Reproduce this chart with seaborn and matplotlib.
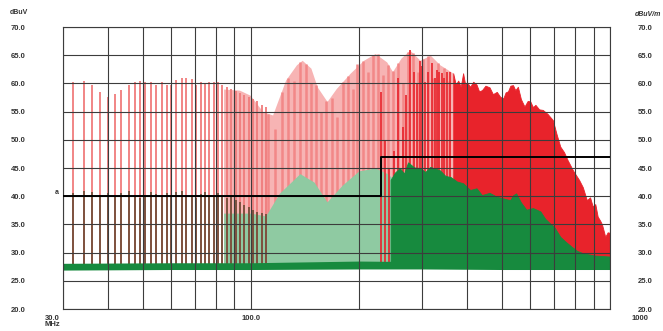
import matplotlib
matplotlib.use('Agg')
import matplotlib.pyplot as plt
import matplotlib.transforms as mtransforms
import numpy as np
import seaborn as sns

# Values (MHz / dBuV)

# discrete comb lines below ~110 MHz
low_freq = [30.0, 32.0, 34.3, 36.2, 38.1, 40.0, 41.8, 43.6, 45.7, 47.6, 49.3, 50.9, 52.8,
            54.5, 56.5, 58.3, 60.1, 62.1, 64.3, 66.2, 68.4, 70.4, 72.5, 74.5, 76.5, 78.8,
            81.1, 83.3, 85.6, 88.1, 90.7, 93.2, 95.7, 98.6, 101.3, 104.3, 107.2, 110.5]
low_red = [57.9, 60.3, 60.4, 59.7, 58.5, 57.6, 58.1, 58.9, 59.8, 60.3, 60.4, 60.3, 60.3,
           59.8, 60.2, 59.8, 59.8, 60.6, 60.9, 60.9, 60.7, 59.8, 60.2, 60.0, 60.2, 60.3,
           60.2, 59.8, 59.4, 59.0, 58.7, 58.3, 57.9, 57.6, 57.2, 56.8, 56.2, 55.8]
low_green = [39.5, 40.5, 41.0, 40.8, 40.2, 40.5, 39.8, 40.6, 40.9, 40.3, 39.6, 40.2, 40.8,
             40.4, 39.9, 40.5, 40.1, 40.7, 40.9, 40.3, 40.0, 39.6, 40.4, 40.8, 40.1, 39.8,
             40.5, 40.2, 39.7, 40.0, 39.4, 38.9, 38.4, 38.0, 37.5, 37.2, 37.0, 36.8]

# light peak envelope 85-366 MHz
pink_freq = [84, 93, 99.6, 108, 115, 125, 134, 139, 147, 153, 163, 173, 189, 206, 222,
             239, 248, 262, 277, 296, 316, 336, 352, 366]
pink_level = [59.0, 58.8, 57.9, 55.0, 54.4, 60.6, 63.3, 64.1, 62.7, 59.4, 56.8, 59.1,
              61.8, 64.1, 65.3, 63.8, 62.1, 64.5, 65.9, 64.1, 65.0, 63.3, 62.5, 61.8]

# comb lines inside the light envelope
pink_line_freq = [112, 117, 122, 127, 132, 137, 142, 147, 152, 157, 162, 168, 174, 180,
                  186, 192, 198, 205, 212, 219, 226, 233, 241, 249, 257, 265, 274, 283,
                  292, 302, 312, 322, 333, 344, 356]
pink_line_level = [54.5, 52.0, 58.5, 61.0, 60.5, 63.8, 63.5, 60.0, 59.8, 55.0, 56.9, 57.5,
                   54.0, 60.3, 61.4, 59.0, 63.4, 64.0, 62.0, 65.1, 65.2, 61.5, 63.3, 62.2,
                   63.6, 60.0, 65.6, 65.4, 62.0, 64.3, 64.8, 61.0, 63.6, 62.8, 60.5]

# light average envelope 85-250 MHz
pale_freq = [84, 100, 110, 120, 137, 150, 163, 180, 200, 222, 240, 250]
pale_level = [37.0, 37.0, 36.5, 40.5, 44.0, 42.5, 39.0, 42.0, 44.5, 45.0, 44.0, 43.0]

# single strong peak lines between 230 and 366 MHz
mid_freq = [230, 236, 243, 250, 257, 265, 270, 278, 285, 290, 296, 300, 306, 312, 320,
            325, 330, 335, 341, 346, 352, 358]
mid_red = [58.5, 50.0, 45.0, 48.0, 61.0, 52.3, 58.0, 65.9, 62.0, 60.0, 64.0, 63.0, 60.3,
           62.0, 63.6, 61.0, 62.4, 62.0, 61.8, 61.0, 62.1, 62.0]

# dense peak envelope above 366 MHz
red_freq = [366, 372, 378, 384, 390, 395, 400, 408, 416, 425, 432, 440, 450, 462, 472,
            484, 495, 505, 512, 520, 528, 537, 545, 554, 565, 578, 590, 600, 610, 620,
            635, 650, 670, 693, 710, 727, 745, 762, 790, 820, 840, 862, 880, 895, 910,
            924, 940, 950, 970, 985, 1000]
red_level = [61.8, 59.8, 60.5, 59.4, 61.8, 59.9, 60.2, 59.4, 60.3, 59.8, 58.6, 58.8,
             59.6, 59.3, 58.1, 58.5, 57.6, 57.4, 58.4, 58.6, 59.6, 59.7, 58.8, 59.4,
             57.2, 55.9, 56.9, 56.8, 55.8, 56.2, 55.4, 55.3, 54.6, 53.5, 51.0, 48.8,
             47.8, 46.4, 44.5, 42.9, 41.6, 39.3, 39.8, 38.2, 38.6, 36.4, 35.6, 35.0,
             32.8, 33.6, 33.5]

# dense average envelope above 245 MHz
green_freq = [245, 252, 260, 267, 274, 285, 296, 306, 316, 336, 348, 360, 375, 390, 408,
              425, 440, 462, 484, 505, 527, 538, 548, 565, 585, 610, 640, 660, 680, 700,
              727, 750, 780, 810, 840, 900, 1000]
green_level = [42.9, 44.2, 45.0, 44.0, 46.0, 45.1, 45.0, 44.3, 45.2, 44.6, 43.6, 43.4,
               42.6, 42.3, 41.1, 41.4, 40.2, 40.6, 39.9, 39.6, 39.3, 40.2, 40.5, 38.9,
               37.6, 37.9, 37.3, 36.0, 35.2, 34.5, 32.8, 32.0, 31.1, 30.3, 29.9, 29.5, 29.3]

# noise floor band
floor_freq = [30, 60, 100, 200, 300, 500, 1000]
floor_lo = [26.9, 27.0, 27.0, 27.1, 27.1, 27.0, 27.0]
floor_hi = [28.1, 28.2, 28.2, 28.5, 28.4, 28.3, 28.3]
noise_floor = 27.5

# limit line
limit_freq = [30, 230, 1000]
limit_level = [40, 47, 47]

sns.set_theme(style='white')
plt.rcParams['font.family'] = ['Liberation Sans', 'DejaVu Sans']

fig = plt.figure(figsize=(6.63, 3.31), dpi=100)
ax = fig.add_axes([63 / 663, 22 / 331, 547 / 663, 282 / 331])

red = '#e8232b'
green = '#178a3e'

ax.fill_between(pink_freq, noise_floor, pink_level, color='#f7b4b4', lw=0, zorder=1)
ax.vlines(pink_line_freq, noise_floor, pink_line_level, colors='#f28888', lw=1.8, zorder=1.05)
ax.fill_between(pale_freq, noise_floor, pale_level, color='#8fcaa2', lw=0, zorder=1.1)
ax.vlines(mid_freq, noise_floor, mid_red, colors=red, lw=1.2, zorder=1.2)
ax.fill_between(red_freq, noise_floor, red_level, color=red, lw=0.6, edgecolor=red, zorder=1.3)
ax.fill_between(green_freq, noise_floor, green_level, color=green, lw=0.6, edgecolor=green, zorder=1.4)
ax.vlines(low_freq, noise_floor, low_red, colors='#f07c7c', lw=1.3, zorder=1.5)
ax.vlines(low_freq, noise_floor, low_green, colors='#6a4a33', lw=1.2, zorder=1.6)
ax.fill_between(floor_freq, floor_lo, floor_hi, color=green, lw=0, zorder=1.7)

sns.lineplot(x=limit_freq, y=limit_level, ax=ax, color='black', lw=1.4,
             drawstyle='steps-post', estimator=None, sort=False, zorder=3)

ax.set_xscale('log')
ax.set_xlim(30, 1000)
ax.set_ylim(20, 70)

yt = np.arange(20, 71, 5)
ax.set_yticks(yt)
ax.set_yticklabels([f'{v:.1f}' for v in yt])
ax.set_xticks([30, 100, 1000])
ax.set_xticklabels(['30.0\nMHz', '100.0', '1000'])
ax.set_xticks([40, 50, 60, 70, 80, 90, 200, 300, 400, 500, 600, 700, 800, 900], minor=True)
ax.xaxis.set_minor_formatter(matplotlib.ticker.NullFormatter())

ax.set_axisbelow(False)
ax.grid(True, which='both', axis='both', color='#3c3c3c', lw=0.8)
for s in ax.spines.values():
    s.set_color('#3c3c3c')
    s.set_linewidth(0.8)

ax.tick_params(axis='both', which='both', length=0, labelsize=5.5, colors='#333333')
ax.tick_params(axis='y', pad=27)
ax.tick_params(axis='x', pad=4)
for lab in ax.get_xticklabels() + ax.get_yticklabels():
    lab.set_fontweight('bold')
    lab.set_linespacing(0.9)

xl = ax.get_xticklabels()
xl[0].set_transform(xl[0].get_transform() + mtransforms.ScaledTranslation(-11 / 100, 0, fig.dpi_scale_trans))
xl[2].set_transform(xl[2].get_transform() + mtransforms.ScaledTranslation(30 / 100, 0, fig.dpi_scale_trans))

ax2 = ax.twinx()
ax2.set_ylim(20, 70)
ax2.set_yticks(yt)
ax2.set_yticklabels([f'{v:.1f}' for v in yt])
ax2.grid(False)
ax2.tick_params(axis='y', length=0, labelsize=5.5, colors='#333333', pad=20)
for lab in ax2.get_yticklabels():
    lab.set_fontweight('bold')
for s in ax2.spines.values():
    s.set_visible(False)

fig.text(10 / 663, 1 - 13 / 331, 'dBuV', fontsize=5, fontweight='bold', color='#333333', va='center')
fig.text(635 / 663, 1 - 15 / 331, 'dBuV/m', fontsize=5, fontweight='bold', color='#333333',
         va='center', style='italic')
ax.text(-0.012, 40.6, 'a', transform=mtransforms.blended_transform_factory(ax.transAxes, ax.transData),
        fontsize=5, fontweight='bold', color='#333333', ha='center', va='center')

fig.savefig('out.png', dpi=100)
